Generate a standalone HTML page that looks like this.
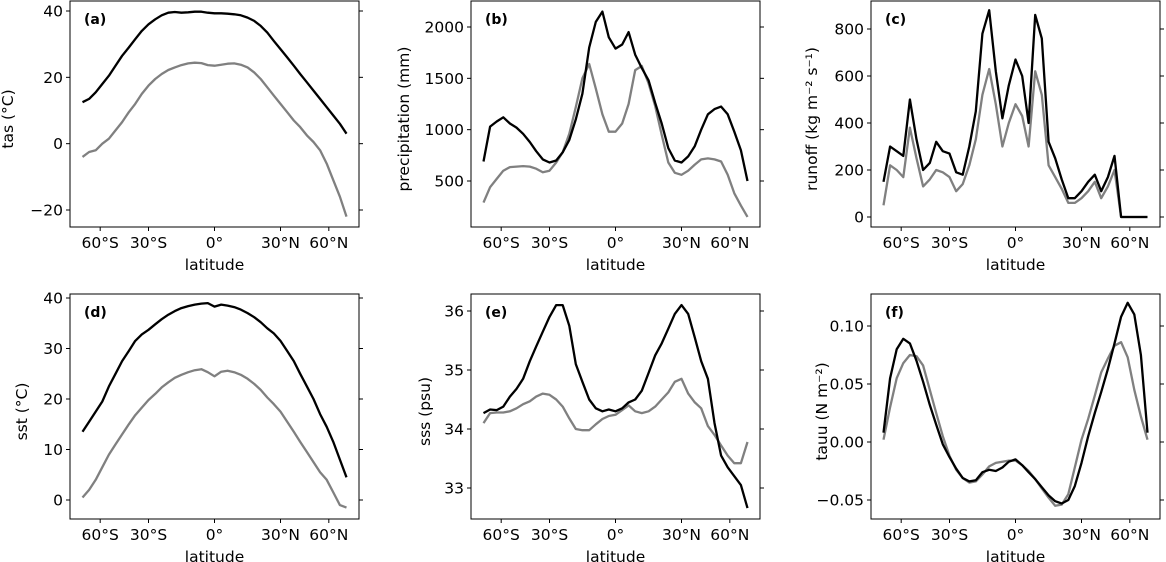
<!DOCTYPE html>
<html><head><meta charset="utf-8"><style>
html,body{margin:0;padding:0;background:#fff;}
svg{display:block;font-family:"DejaVu Sans","Liberation Sans",sans-serif;}
</style></head><body>
<svg id="fig" width="1166" height="562" viewBox="0 0 1166 562" xmlns="http://www.w3.org/2000/svg"></svg>
<script>
// latitude grid (degrees), equally spaced in sin(latitude)
const lats = [-90,-71.8,-64.2,-58.2,-53.1,-48.6,-44.4,-40.5,-36.9,-33.4,-30,-26.7,-23.6,-20.5,-17.5,-14.5,-11.5,-8.6,-5.7,-2.9,0,2.9,5.7,8.6,11.5,14.5,17.5,20.5,23.6,26.7,30,33.4,36.9,40.5,44.4,48.6,53.1,58.2,64.2,71.8,90];
const xTickLats = [-60,-30,0,30,60];
const xTickLabels = ["60°S","30°S","0°","30°N","60°N"];

const tasBlack = [12.5,13.5,15.5,18,20.5,23.5,26.5,29,31.5,34,36,37.5,38.7,39.5,39.7,39.5,39.6,39.8,39.8,39.5,39.3,39.3,39.2,39,38.7,38,37,35.5,33.5,31,28.5,26,23.5,21,18.5,16,13.5,11,8.5,6,3];
const tasGray = [-4,-2.5,-2,0,1.5,4,6.5,9.5,12,15,17.5,19.5,21,22.2,23,23.7,24.2,24.4,24.3,23.7,23.5,23.8,24.1,24.2,23.8,23,21.5,19.5,17,14.5,12,9.5,7,5,2.5,0.5,-2,-6,-11,-16,-22];
const tasTicks = [40,20,0,-20];

const prBlack = [690,1030,1080,1120,1060,1020,960,880,790,710,680,700,780,900,1100,1350,1800,2050,2150,1900,1790,1830,1950,1730,1600,1480,1260,1060,820,700,680,740,840,1000,1150,1200,1225,1150,980,800,500];
const prGray = [290,440,520,600,635,640,645,640,620,585,600,680,780,960,1220,1500,1640,1400,1150,980,980,1060,1250,1580,1620,1450,1230,950,680,580,560,600,660,710,720,710,690,560,380,260,150];
const prTicks = [2000,1500,1000,500];

const roBlack = [150,300,280,260,500,330,200,230,320,280,270,190,180,300,450,780,880,620,420,560,670,600,400,860,760,320,250,160,80,80,110,150,180,110,170,260,0,0,0,0,0];
const roGray = [50,220,200,170,380,250,130,160,200,190,170,110,140,220,330,520,630,480,300,400,480,430,300,620,520,220,170,120,60,60,80,110,150,80,130,200,0,0,0,0,0];
const roTicks = [800,600,400,200,0];

const sstBlack = [13.5,15.5,17.5,19.5,22.5,25,27.5,29.5,31.5,32.8,33.7,34.8,35.8,36.7,37.4,38,38.4,38.7,38.9,39,38.3,38.7,38.5,38.2,37.7,37,36.2,35.2,34,33,31.5,29.5,27.5,25,22.5,20,17,14.5,11.5,8,4.5];
const sstGray = [0.5,2,4,6.5,9,11,13,15,16.8,18.3,19.8,21,22.3,23.3,24.2,24.8,25.3,25.7,25.9,25.3,24.5,25.4,25.6,25.3,24.8,24,23,21.8,20.3,19,17.5,15.5,13.5,11.5,9.5,7.5,5.5,4,1.5,-1,-1.5];
const sstTicks = [40,30,20,10,0];

const sssBlack = [34.27,34.33,34.32,34.38,34.55,34.68,34.85,35.15,35.4,35.65,35.9,36.1,36.1,35.75,35.1,34.8,34.5,34.35,34.3,34.33,34.3,34.35,34.45,34.5,34.65,34.95,35.25,35.45,35.7,35.95,36.1,35.95,35.55,35.15,34.85,34.1,33.55,33.35,33.2,33.05,32.66];
const sssGray = [34.1,34.27,34.28,34.28,34.3,34.35,34.42,34.47,34.55,34.6,34.58,34.5,34.38,34.18,34.0,33.98,33.98,34.08,34.17,34.22,34.24,34.32,34.4,34.3,34.27,34.3,34.38,34.5,34.62,34.8,34.85,34.6,34.45,34.35,34.05,33.9,33.72,33.55,33.42,33.42,33.78];
const sssTicks = [36,35,34,33];

const tauBlack = [0.008,0.055,0.08,0.089,0.085,0.07,0.052,0.032,0.015,-0.002,-0.013,-0.023,-0.031,-0.034,-0.033,-0.026,-0.024,-0.025,-0.022,-0.017,-0.015,-0.02,-0.026,-0.032,-0.039,-0.046,-0.051,-0.053,-0.05,-0.038,-0.018,0.005,0.025,0.043,0.063,0.085,0.108,0.12,0.11,0.075,0.008];
const tauGray = [0.002,0.03,0.055,0.068,0.075,0.074,0.066,0.045,0.025,0.005,-0.012,-0.024,-0.031,-0.035,-0.034,-0.028,-0.021,-0.018,-0.017,-0.016,-0.016,-0.02,-0.025,-0.032,-0.04,-0.048,-0.055,-0.054,-0.045,-0.022,0.002,0.02,0.04,0.06,0.072,0.083,0.086,0.073,0.045,0.022,0.002];
const tauTicks = [0.10,0.05,0.00,-0.05];

const NS = "http://www.w3.org/2000/svg";
const svg = document.getElementById('fig');
function mk(tag, attrs, parent){ const e=document.createElementNS(NS,tag); for(const k in attrs) e.setAttribute(k,attrs[k]); (parent||svg).appendChild(e); return e; }

const FS = 15.5;
const panels = [
 {id:'a', L:70, T:1, B:227, v1:40, y1:11, v2:-20, y2:210, ticks:tasTicks, fmt:v=>v<0?'−'+(-v):''+v, ylab:'tas (°C)', ylx:8, black:tasBlack, gray:tasGray},
 {id:'b', L:471, T:1, B:227, v1:2000, y1:27, v2:500, y2:181, ticks:prTicks, fmt:v=>''+v, ylab:'precipitation (mm)', ylx:404, black:prBlack, gray:prGray},
 {id:'c', L:871, T:1, B:227, v1:800, y1:29, v2:0, y2:217, ticks:roTicks, fmt:v=>''+v, ylab:'runoff (kg m⁻² s⁻¹)', ylx:812, black:roBlack, gray:roGray},
 {id:'d', L:70, T:294, B:519, v1:40, y1:298, v2:0, y2:500, ticks:sstTicks, fmt:v=>''+v, ylab:'sst (°C)', ylx:22, black:sstBlack, gray:sstGray},
 {id:'e', L:471, T:294, B:519, v1:36, y1:311, v2:33, y2:488, ticks:sssTicks, fmt:v=>''+v, ylab:'sss (psu)', ylx:425, black:sssBlack, gray:sssGray},
 {id:'f', L:871, T:294, B:519, v1:0.1, y1:326, v2:-0.05, y2:500, ticks:tauTicks, fmt:v=>v<0?'−'+(-v).toFixed(2):v.toFixed(2), ylab:'tauu (N m⁻²)', ylx:822, black:tauBlack, gray:tauGray}
];
const W = 289;

panels.forEach(p=>{
  const g = mk('g',{});
  
  
  const cx = p.L + W/2;
  const xs = lat => cx + 132*Math.sin(lat*Math.PI/180);
  const ys = v => p.y1 + (v - p.v1)*(p.y2 - p.y1)/(p.v2 - p.v1);
  const R = p.L + W;
  [['gray','#808080',p.gray],['black','#000',p.black]].forEach(([nm,col,arr])=>{
    const d = arr.map((v,i)=>(i?'L':'M')+xs(lats[i]).toFixed(1)+','+ys(v).toFixed(1)).join(' ');
    const path = mk('path',{d:d,fill:'none',stroke:col,'stroke-width':2.3,'stroke-linejoin':'round'},g);
    
    
  });
  const fr = mk('rect',{x:p.L,y:p.T,width:W,height:p.B-p.T,fill:'none',stroke:'#000','stroke-width':1},g);
  
  
  p.ticks.forEach(v=>{
    const y = ys(v);
    mk('line',{x1:p.L-4,x2:p.L,y1:y,y2:y,stroke:'#000','stroke-width':1},g);
    mk('line',{x1:R,x2:R+4,y1:y,y2:y,stroke:'#000','stroke-width':1},g);
    const t = mk('text',{x:p.L-7,y:y+5.5,'text-anchor':'end','font-size':FS},g);
    t.textContent = p.fmt(v);
    
    
  });
  xTickLats.forEach((lat,i)=>{
    const x = xs(lat);
    mk('line',{x1:x,x2:x,y1:p.B,y2:p.B+4,stroke:'#000','stroke-width':1},g);
    const t = mk('text',{x:x,y:p.B+21,'text-anchor':'middle','font-size':FS},g);
    t.textContent = xTickLabels[i];
    
    
  });
  const xl = mk('text',{x:cx,y:p.B+43,'text-anchor':'middle','font-size':FS},g);
  xl.textContent = 'latitude';
  
  
  const ym = (p.T+p.B)/2;
  const yl = mk('text',{x:p.ylx,y:ym,'text-anchor':'middle','font-size':FS,transform:'rotate(-90 '+(p.ylx+5)+' '+ym+')'},g);
  yl.textContent = p.ylab;
  
  
  const pl = mk('text',{x:p.L+14,y:p.T+23,'font-size':14,'font-weight':'bold'},g);
  pl.textContent = '('+p.id+')';
  
  
});
</script>
</body></html>
